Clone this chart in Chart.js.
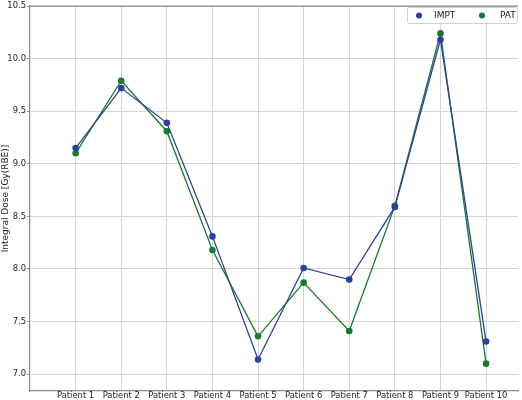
<!DOCTYPE html>
<html>
<head>
<meta charset="utf-8">
<script src="https://cdn.jsdelivr.net/npm/chart.js@4"></script>
<style>
  html, body { margin: 0; padding: 0; background: #fff; overflow: hidden; }
  #wrap { width: 522px; height: 400px; }
</style>
</head>
<body>
<div id="wrap"><canvas id="chart"></canvas></div>
<script>
const patients = ["Patient 1", "Patient 2", "Patient 3", "Patient 4", "Patient 5",
                  "Patient 6", "Patient 7", "Patient 8", "Patient 9", "Patient 10"];
const imptDose = [9.15, 9.72, 9.39, 8.31, 7.14, 8.01, 7.90, 8.59, 10.18, 7.31];
const patDose = [9.10, 9.79, 9.31, 8.18, 7.36, 7.87, 7.41, 8.60, 10.24, 7.10];
const yTicks = [7.0, 7.5, 8.0, 8.5, 9.0, 9.5, 10.0, 10.5];

const blue = "#2b3fa0";
const green = "#157a2c";
const font = "'DejaVu Sans', sans-serif";

function toPoints(values) {
    return values.map((v, i) => ({ x: i + 1, y: v }));
}

// top spine and a matplotlib style legend box in the upper right
const framePlugin = {
    id: "frame",
    afterDraw(chart) {
        const ctx = chart.ctx;
        const a = chart.chartArea;
        ctx.save();
        ctx.strokeStyle = "#8a8a8a";
        ctx.lineWidth = 1.2;
        ctx.beginPath();
        ctx.moveTo(a.left, a.top);
        ctx.lineTo(a.right, a.top);
        ctx.stroke();

        ctx.fillStyle = "rgba(255,255,255,0.8)";
        ctx.strokeStyle = "#d0d0d0";
        ctx.lineWidth = 1;
        ctx.beginPath();
        ctx.roundRect(407.5, 7.5, 110, 16, 2);
        ctx.fill();
        ctx.stroke();

        const dotX = [419, 482];
        const textX = [434, 500];
        ctx.font = "9px " + font;
        ctx.textBaseline = "middle";
        ctx.textAlign = "left";
        chart.data.datasets.forEach((ds, i) => {
            ctx.fillStyle = ds.borderColor;
            ctx.beginPath();
            ctx.arc(dotX[i], 15.5, 3, 0, Math.PI * 2);
            ctx.fill();
            ctx.fillStyle = "#222";
            ctx.fillText(ds.label, textX[i], 15.5);
        });
        ctx.restore();
    }
};

const ctx = document.getElementById("chart");
new Chart(ctx, {
    type: "line",
    data: {
        datasets: [
            {
                label: "IMPT",
                data: toPoints(imptDose),
                borderColor: blue,
                backgroundColor: blue,
                borderWidth: 1.3,
                pointRadius: 3.3,
                pointBorderWidth: 0,
                tension: 0,
            },
            {
                label: "PAT",
                data: toPoints(patDose),
                borderColor: green,
                backgroundColor: green,
                borderWidth: 1.3,
                pointRadius: 3.3,
                pointBorderWidth: 0,
                tension: 0,
            },
        ],
    },
    options: {
        responsive: true,
        maintainAspectRatio: false,
        animation: false,
        layout: { padding: { top: 3, right: 0, left: 0, bottom: 0 } },
        scales: {
            x: {
                type: "linear",
                min: 0,
                max: 10.7,
                afterBuildTicks(scale) {
                    scale.ticks = patients.map((p, i) => ({ value: i + 1 }));
                },
                afterFit(scale) {
                    scale.height = 9;
                },
                ticks: {
                    callback: (v) => patients[v - 1] || "",
                    font: { family: font, size: 8.4 },
                    color: "#222",
                    padding: 0,
                    maxRotation: 0,
                    autoSkip: false,
                },
                grid: {
                    color: "#d6d6d6",
                    lineWidth: 1,
                    tickLength: 0,
                },
                border: { color: "#8a8a8a", width: 1.2 },
            },
            y: {
                min: 6.84,
                max: 10.5,
                afterBuildTicks(scale) {
                    scale.ticks = yTicks.map((v) => ({ value: v }));
                },
                afterFit(scale) {
                    scale.width = 30;
                },
                ticks: {
                    callback: (v) => v.toFixed(1),
                    font: { family: font, size: 8.4 },
                    color: "#222",
                    padding: 1,
                },
                grid: {
                    color: "#d6d6d6",
                    lineWidth: 1,
                    tickLength: 3,
                    tickColor: "#8a8a8a",
                },
                border: { color: "#8a8a8a", width: 1.2 },
                title: {
                    display: true,
                    text: "Integral Dose [Gy(RBE)]",
                    font: { family: font, size: 9 },
                    color: "#222",
                    padding: 0,
                },
            },
        },
        plugins: {
            legend: { display: false },
            tooltip: { enabled: false },
        },
    },
    plugins: [framePlugin],
});
</script>
</body>
</html>
